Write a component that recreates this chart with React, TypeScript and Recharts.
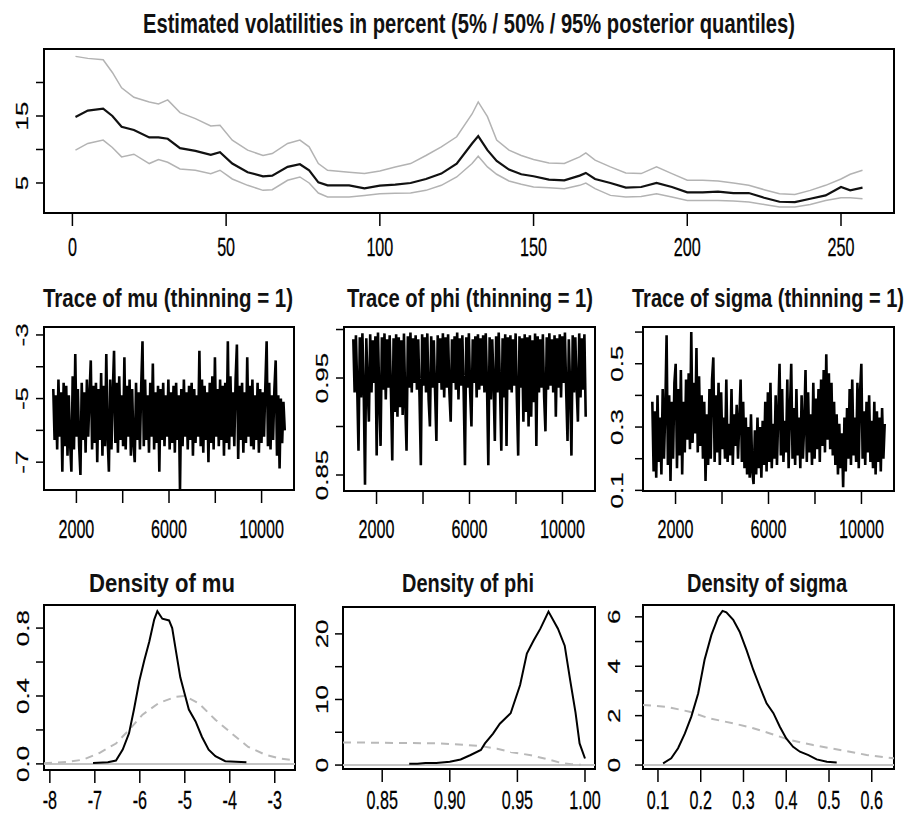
import { useLayoutEffect, useRef, useState } from "react";
import { LineChart, Line, XAxis, YAxis, ReferenceArea, ReferenceLine } from "recharts";

const FONT = "'Liberation Sans', Arial, Helvetica, sans-serif";
const TITLE_FONT = "'Liberation Sans Narrow', 'Arial Narrow', 'Liberation Sans', sans-serif";
const SQUISH = 0.62;

// ---- top panel: volatility quantiles ----
const volTime = [1, 5, 10, 13, 16, 20, 25, 28, 31, 35, 40, 45, 48, 52, 57, 62, 65, 70, 74, 77, 80, 83, 90, 95, 100, 105, 110, 115, 120, 125, 130, 132, 135, 138, 142, 146, 150, 155, 160, 165, 167, 170, 175, 180, 185, 190, 195, 200, 205, 210, 215, 220, 225, 230, 235, 240, 245, 250, 253, 257];
const volQ50 = [14.85, 15.8, 16.1, 15.0, 13.4, 12.9, 11.8, 11.8, 11.6, 10.2, 9.8, 9.2, 9.6, 7.9, 6.6, 6.0, 6.1, 7.4, 7.8, 6.9, 5.1, 4.65, 4.65, 4.2, 4.6, 4.75, 5.0, 5.6, 6.4, 7.9, 10.9, 12.0, 9.9, 8.3, 7.0, 6.3, 6.0, 5.5, 5.4, 6.1, 6.5, 5.6, 5.0, 4.3, 4.4, 5.0, 4.4, 3.6, 3.6, 3.7, 3.5, 3.5, 2.8, 2.2, 2.15, 2.65, 3.15, 4.4, 3.9, 4.3];
const volQ95 = [23.9, 23.6, 23.4, 21.5, 19.2, 17.8, 17.1, 16.8, 17.4, 15.5, 14.6, 13.5, 13.6, 11.4, 9.9, 9.1, 9.4, 10.9, 11.4, 10.4, 7.9, 6.9, 6.6, 6.4, 6.8, 7.4, 7.9, 9.1, 10.4, 11.9, 15.3, 17.1, 14.9, 11.4, 9.9, 9.1, 8.5, 8.0, 7.9, 8.9, 9.5, 8.4, 7.4, 6.5, 6.4, 7.4, 6.4, 5.4, 5.4, 5.3, 5.0, 4.65, 4.0, 3.4, 3.3, 3.9, 4.65, 5.6, 6.3, 6.9];
const volQ05 = [9.9, 10.9, 11.4, 10.3, 8.9, 9.3, 7.9, 8.5, 8.1, 7.1, 6.9, 6.4, 6.9, 5.6, 4.65, 3.9, 4.0, 5.4, 5.9, 5.0, 3.5, 2.9, 2.9, 3.15, 3.4, 3.45, 3.5, 3.9, 4.65, 5.9, 7.9, 9.0, 7.4, 6.3, 5.3, 4.8, 4.4, 4.3, 4.15, 4.65, 5.0, 4.15, 3.15, 2.9, 3.0, 3.4, 2.9, 2.4, 2.4, 2.4, 2.3, 2.15, 1.8, 1.4, 1.4, 1.8, 2.4, 2.8, 2.8, 2.65];
const volXTicks = [0, 50, 100, 150, 200, 250];
const volXLabels = ["0", "50", "100", "150", "200", "250"];
const volYTicks = [5, 10, 15, 20];
const volYLabels = ["5", "", "15", ""];

// ---- traces (draws 1001..11000 at ~56-draw steps) ----
const muDraws = [
  -4.7, -6.3, -4.9, -6.6, -4.4, -6.2, -4.8, -7.3, -4.5, -6.5,
  -4.6, -6.8, -4.9, -6.4, -7.3, -4.3, -6.6, -3.6, -6.2, -4.7,
  -6.5, -7.4, -4.5, -6.3, -4.8, -6.7, -4.4, -6.2, -4.9, -3.8,
  -6.6, -4.6, -6.4, -4.5, -7.0, -4.7, -6.3, -4.2, -6.8, -4.6,
  -6.5, -3.6, -6.2, -7.3, -4.4, -6.6, -4.8, -3.5, -6.4, -4.5,
  -6.7, -4.3, -6.3, -4.9, -6.5, -3.7, -6.6, -4.6, -6.2, -4.4,
  -6.8, -4.7, -6.4, -7.0, -4.5, -6.3, -4.8, -6.6, -4.6, -3.2,
  -6.5, -4.4, -6.3, -4.9, -6.7, -4.5, -6.2, -3.9, -6.6, -4.8,
  -6.4, -4.6, -7.3, -4.7, -6.3, -4.5, -6.5, -4.9, -6.2, -4.4,
  -6.6, -4.8, -6.4, -4.6, -6.7, -4.5, -6.3, -4.9, -7.9, -4.7,
  -6.5, -4.4, -6.2, -4.8, -6.6, -4.6, -6.3, -4.5, -6.8, -4.7,
  -6.4, -4.9, -6.2, -3.5, -6.5, -4.4, -6.7, -4.6, -6.3, -4.8,
  -7.0, -4.5, -6.4, -4.3, -6.6, -3.7, -6.2, -4.7, -6.5, -4.4,
  -6.3, -4.6, -6.8, -4.5, -6.4, -3.2, -6.6, -4.3, -6.2, -4.8,
  -6.5, -4.4, -3.3, -6.9, -4.6, -6.3, -4.5, -6.7, -4.8, -6.4,
  -3.7, -6.2, -4.6, -6.5, -4.4, -6.6, -4.9, -6.3, -4.5, -6.7,
  -4.7, -6.4, -4.8, -6.2, -4.6, -3.2, -6.5, -4.5, -6.6, -4.9,
  -6.3, -4.7, -3.8, -6.8, -4.9, -7.2, -5.0, -6.4, -5.1, -6.0];
const phiDraws = [
  0.990, 0.935, 0.994, 0.940, 0.875, 0.992, 0.930, 0.996, 0.938, 0.840,
  0.991, 0.942, 0.905, 0.995, 0.935, 0.989, 0.945, 0.993, 0.870, 0.997,
  0.930, 0.880, 0.992, 0.938, 0.996, 0.928, 0.990, 0.940, 0.994, 0.935,
  0.865, 0.991, 0.915, 0.995, 0.910, 0.992, 0.920, 0.989, 0.912, 0.996,
  0.925, 0.875, 0.993, 0.940, 0.997, 0.935, 0.991, 0.945, 0.994, 0.938,
  0.990, 0.930, 0.860, 0.995, 0.942, 0.992, 0.935, 0.996, 0.928, 0.900,
  0.993, 0.940, 0.989, 0.935, 0.885, 0.994, 0.945, 0.991, 0.938, 0.996,
  0.930, 0.992, 0.940, 0.995, 0.935, 0.905, 0.990, 0.945, 0.993, 0.938,
  0.997, 0.928, 0.991, 0.942, 0.994, 0.935, 0.860, 0.992, 0.940, 0.996,
  0.935, 0.900, 0.990, 0.945, 0.993, 0.930, 0.995, 0.938, 0.991, 0.942,
  0.994, 0.935, 0.996, 0.940, 0.860, 0.992, 0.928, 0.990, 0.945, 0.885,
  0.993, 0.935, 0.997, 0.940, 0.875, 0.991, 0.930, 0.995, 0.880, 0.992,
  0.938, 0.994, 0.935, 0.990, 0.942, 0.996, 0.928, 0.870, 0.993, 0.940,
  0.991, 0.905, 0.995, 0.915, 0.992, 0.900, 0.994, 0.910, 0.989, 0.925,
  0.996, 0.880, 0.993, 0.935, 0.990, 0.940, 0.995, 0.930, 0.895, 0.992,
  0.938, 0.996, 0.942, 0.990, 0.935, 0.994, 0.910, 0.991, 0.940, 0.995,
  0.930, 0.993, 0.945, 0.997, 0.935, 0.885, 0.990, 0.940, 0.870, 0.994,
  0.935, 0.992, 0.940, 0.905, 0.996, 0.930, 0.991, 0.938, 0.995, 0.910];
const sigmaDraws = [
  0.38, 0.16, 0.35, 0.14, 0.40, 0.19, 0.33, 0.15, 0.42, 0.20,
  0.36, 0.59, 0.18, 0.40, 0.13, 0.38, 0.20, 0.44, 0.50, 0.17,
  0.42, 0.21, 0.48, 0.15, 0.38, 0.22, 0.45, 0.26, 0.47, 0.23,
  0.60, 0.25, 0.44, 0.28, 0.55, 0.22, 0.46, 0.24, 0.40, 0.20,
  0.38, 0.13, 0.34, 0.18, 0.42, 0.20, 0.45, 0.52, 0.19, 0.40,
  0.22, 0.44, 0.18, 0.41, 0.23, 0.33, 0.20, 0.45, 0.19, 0.31,
  0.21, 0.42, 0.18, 0.34, 0.24, 0.37, 0.20, 0.32, 0.45, 0.19,
  0.38, 0.17, 0.33, 0.15, 0.30, 0.14, 0.34, 0.16, 0.12, 0.29,
  0.15, 0.33, 0.17, 0.30, 0.14, 0.32, 0.18, 0.38, 0.16, 0.41,
  0.19, 0.44, 0.17, 0.31, 0.20, 0.40, 0.18, 0.34, 0.50, 0.21,
  0.42, 0.19, 0.32, 0.22, 0.45, 0.17, 0.35, 0.50, 0.20, 0.36,
  0.18, 0.42, 0.21, 0.33, 0.17, 0.40, 0.20, 0.31, 0.48, 0.19,
  0.41, 0.22, 0.34, 0.18, 0.44, 0.20, 0.39, 0.23, 0.42, 0.19,
  0.45, 0.24, 0.48, 0.22, 0.53, 0.26, 0.47, 0.23, 0.44, 0.21,
  0.38, 0.18, 0.34, 0.15, 0.31, 0.17, 0.28, 0.11, 0.33, 0.16,
  0.36, 0.20, 0.42, 0.18, 0.45, 0.21, 0.33, 0.19, 0.44, 0.17,
  0.41, 0.50, 0.20, 0.35, 0.18, 0.38, 0.22, 0.40, 0.19, 0.32,
  0.17, 0.38, 0.15, 0.35, 0.19, 0.33, 0.16, 0.36, 0.20, 0.31];
const traceXTicks = [2000, 4000, 6000, 8000, 10000];
const traceXLabels = ["2000", "", "6000", "", "10000"];
const muTraceYTicks = [-7, -6, -5, -4, -3];
const muTraceYLabels = ["-7", "", "-5", "", "-3"];
const phiTraceYTicks = [0.85, 0.9, 0.95, 1.0];
const phiTraceYLabels = ["0.85", "", "0.95", ""];
const sigmaTraceYTicks = [0.1, 0.2, 0.3, 0.4, 0.5, 0.6];
const sigmaTraceYLabels = ["0.1", "", "0.3", "", "0.5", ""];

// ---- densities: posterior (black) and prior (grey dashed) ----
const muPostX = [-7.04, -6.71, -6.53, -6.38, -6.24, -6.13, -6.01, -5.9, -5.79, -5.68, -5.61, -5.5, -5.35, -5.28, -5.2, -5.1, -4.99, -4.91, -4.76, -4.62, -4.47, -4.32, -4.1, -3.63];
const muPostY = [0.005, 0.01, 0.02, 0.084, 0.18, 0.32, 0.49, 0.61, 0.72, 0.85, 0.9, 0.855, 0.845, 0.8, 0.67, 0.51, 0.4, 0.32, 0.25, 0.16, 0.084, 0.045, 0.016, 0.01];
const muPriorX = [-8.13, -7.6, -7.26, -6.9, -6.53, -6.24, -5.94, -5.57, -5.2, -5.0, -4.69, -4.32, -3.96, -3.59, -3.22, -2.85, -2.55];
const muPriorY = [0.004, 0.012, 0.025, 0.064, 0.12, 0.2, 0.29, 0.36, 0.395, 0.4, 0.357, 0.26, 0.18, 0.1, 0.055, 0.03, 0.02];
const phiPostX = [0.87, 0.876, 0.882, 0.89, 0.9, 0.908, 0.915, 0.923, 0.926, 0.932, 0.937, 0.945, 0.952, 0.957, 0.962, 0.967, 0.973, 0.98, 0.985, 0.989, 0.993, 0.996, 1.0];
const phiPostY = [0.2, 0.2, 0.3, 0.3, 0.5, 0.86, 1.5, 2.3, 3.3, 4.8, 6.3, 7.9, 12.2, 17, 19, 20.8, 23.4, 20.8, 18.2, 13, 8, 3.3, 1.0];
const phiPriorX = [0.821, 0.85, 0.893, 0.91, 0.923, 0.935, 0.945, 0.96, 0.97, 0.982, 0.99, 0.997];
const phiPriorY = [3.45, 3.4, 3.3, 3.1, 2.9, 2.5, 2.0, 1.5, 1.0, 0.35, 0.12, 0.03];
const sigmaPostX = [0.112, 0.131, 0.147, 0.163, 0.178, 0.194, 0.209, 0.225, 0.241, 0.251, 0.26, 0.276, 0.291, 0.307, 0.323, 0.338, 0.354, 0.37, 0.385, 0.4, 0.416, 0.432, 0.452, 0.471, 0.495, 0.518];
const sigmaPostY = [0.07, 0.27, 0.68, 1.28, 1.96, 2.9, 4.26, 5.27, 6.0, 6.24, 6.18, 5.88, 5.4, 4.66, 3.85, 3.18, 2.5, 2.1, 1.55, 1.08, 0.74, 0.54, 0.4, 0.23, 0.13, 0.1];
const sigmaPriorX = [0.065, 0.12, 0.174, 0.22, 0.276, 0.323, 0.362, 0.409, 0.463, 0.526, 0.588, 0.652];
const sigmaPriorY = [2.43, 2.36, 2.16, 1.89, 1.69, 1.49, 1.28, 1.01, 0.81, 0.61, 0.41, 0.27];
const muDensXTicks = [-8, -7, -6, -5, -4, -3];
const muDensXLabels = ["-8", "-7", "-6", "-5", "-4", "-3"];
const muDensYTicks = [0, 0.2, 0.4, 0.6, 0.8];
const muDensYLabels = ["0.0", "", "0.4", "", "0.8"];
const phiDensXTicks = [0.85, 0.9, 0.95, 1.0];
const phiDensXLabels = ["0.85", "0.90", "0.95", "1.00"];
const phiDensYTicks = [0, 5, 10, 15, 20];
const phiDensYLabels = ["0", "", "10", "", "20"];
const sigmaDensXTicks = [0.1, 0.2, 0.3, 0.4, 0.5, 0.6];
const sigmaDensXLabels = ["0.1", "0.2", "0.3", "0.4", "0.5", "0.6"];
const sigmaDensYTicks = [0, 1, 2, 3, 4, 5, 6];
const sigmaDensYLabels = ["0", "", "2", "", "4", "", "6"];

const pairs = (xs: number[], ys: number[]) => xs.map((x, i) => ({ x, y: ys[i] }));
// iteration number of each kept draw
const draws = (ys: number[]) => ys.map((y, i) => ({ x: 1001 + Math.round((i * 9999) / (ys.length - 1)), y }));
const volData = volTime.map((t, i) => ({ x: t, lo: volQ05[i], med: volQ50[i], hi: volQ95[i] }));

function SqText({ x, y, text, rotate }: { x: number; y: number; text: string; rotate?: boolean }) {
  return (
    <text
      transform={`translate(${x} ${y}) scale(${SQUISH} 1)${rotate ? " rotate(-90)" : ""}`}
      textAnchor="middle"
      dominantBaseline="central"
      style={{ fontFamily: FONT, fontSize: 26, fill: "#000", stroke: "#000", strokeWidth: 0.3 }}
    >
      {text}
    </text>
  );
}

type Box = { l: number; t: number; r: number; b: number };

function Panel({
  left, top, width, height, box, xDomain, yDomain, xTicks, xLabels, yTicks, yLabels,
  xLabelGap, yLabelGap, children,
}: {
  left: number; top: number; width: number; height: number; box: Box;
  xDomain: [number, number]; yDomain: [number, number];
  xTicks: number[]; xLabels: string[]; yTicks: number[]; yLabels: string[];
  xLabelGap: number; yLabelGap: number; children: React.ReactNode;
}) {
  const yAxisW = box.l - left;
  const xAxisH = top + height - box.b;
  const labelY = box.b - top + xLabelGap;
  const labelX = yAxisW - yLabelGap;
  const xTick = (p: any) => {
    const s = xLabels[xTicks.indexOf(p.payload.value)];
    return s ? <SqText x={p.x} y={labelY} text={s} /> : <g />;
  };
  const yTick = (p: any) => {
    const s = yLabels[yTicks.indexOf(p.payload.value)];
    return s ? <SqText x={labelX} y={p.y} text={s} rotate /> : <g />;
  };
  return (
    <div style={{ position: "absolute", left, top }}>
      <LineChart
        width={width}
        height={height}
        margin={{ top: box.t - top, right: left + width - box.r, left: 0, bottom: 0 }}
      >
        <XAxis dataKey="x" type="number" domain={xDomain} allowDataOverflow ticks={xTicks} interval={0}
          height={xAxisH} axisLine={false} tickSize={13} tickLine={{ stroke: "#000", strokeWidth: 1.5 }} tick={xTick} />
        <YAxis type="number" domain={yDomain} allowDataOverflow ticks={yTicks} interval={0}
          width={yAxisW} axisLine={false} tickSize={8} tickLine={{ stroke: "#000", strokeWidth: 1.5 }} tick={yTick} />
        {children}
        <ReferenceArea x1={xDomain[0]} x2={xDomain[1]} y1={yDomain[0]} y2={yDomain[1]} ifOverflow="visible"
          fill="none" fillOpacity={0} stroke="#000" strokeWidth={2} />
      </LineChart>
    </div>
  );
}

// bold title squeezed horizontally to the width it has in the picture
function Title({ x, y, w, size, text }: { x: number; y: number; w: number; size: number; text: string }) {
  const ref = useRef<SVGTextElement>(null);
  const [sx, setSx] = useState(0.8);
  useLayoutEffect(() => {
    const len = ref.current ? ref.current.getComputedTextLength() : 0;
    if (len > 0) setSx(w / len);
  }, [w, size, text]);
  return (
    <g transform={`translate(${x} ${y}) scale(${sx} 1)`}>
      <text ref={ref} x={0} y={0} textAnchor="middle"
        style={{ fontFamily: TITLE_FONT, fontWeight: "bold", fontSize: size, fill: "#111" }}>
        {text}
      </text>
    </g>
  );
}

const TRACE_TOP = 315, TRACE_H = 240;
const DENS_TOP = 595, DENS_H = 228;
const priorStyle = { stroke: "#b9b9b9", strokeWidth: 2, strokeDasharray: "8 6" };
const traceStroke = 2.6;

export default function App() {
  return (
    <div style={{ position: "absolute", left: 0, top: 0, width: 909, height: 823, background: "#fff", overflow: "hidden" }}>
      <Panel left={0} top={40} width={909} height={240} box={{ l: 44, t: 49, r: 894, b: 213 }}
        xDomain={[-9.24, 267.24]} yDomain={[0.52, 25.0]} xTicks={volXTicks} xLabels={volXLabels}
        yTicks={volYTicks} yLabels={volYLabels} xLabelGap={34} yLabelGap={22}>
        <Line data={volData} dataKey="hi" stroke="#b3b3b3" strokeWidth={1.5} dot={false} isAnimationActive={false} />
        <Line data={volData} dataKey="lo" stroke="#b3b3b3" strokeWidth={1.5} dot={false} isAnimationActive={false} />
        <Line data={volData} dataKey="med" stroke="#111" strokeWidth={2.2} dot={false} isAnimationActive={false} />
      </Panel>

      <Panel left={0} top={TRACE_TOP} width={304} height={TRACE_H} box={{ l: 44, t: 327, r: 294, b: 490 }}
        xDomain={[600, 11400]} yDomain={[-7.875, -2.75]} xTicks={traceXTicks} xLabels={traceXLabels}
        yTicks={muTraceYTicks} yLabels={muTraceYLabels} xLabelGap={39} yLabelGap={22}>
        <Line data={draws(muDraws)} dataKey="y" stroke="#000" strokeWidth={traceStroke} dot={false} isAnimationActive={false} />
      </Panel>
      <Panel left={300} top={TRACE_TOP} width={305} height={TRACE_H} box={{ l: 344, t: 327, r: 595, b: 491 }}
        xDomain={[600, 11400]} yDomain={[0.8335, 1.0026]} xTicks={traceXTicks} xLabels={traceXLabels}
        yTicks={phiTraceYTicks} yLabels={phiTraceYLabels} xLabelGap={38} yLabelGap={22}>
        <Line data={draws(phiDraws)} dataKey="y" stroke="#000" strokeWidth={traceStroke} dot={false} isAnimationActive={false} />
      </Panel>
      <Panel left={599} top={TRACE_TOP} width={305} height={TRACE_H} box={{ l: 643, t: 327, r: 894, b: 491 }}
        xDomain={[600, 11400]} yDomain={[0.098, 0.616]} xTicks={traceXTicks} xLabels={traceXLabels}
        yTicks={sigmaTraceYTicks} yLabels={sigmaTraceYLabels} xLabelGap={38} yLabelGap={26}>
        <Line data={draws(sigmaDraws)} dataKey="y" stroke="#000" strokeWidth={traceStroke} dot={false} isAnimationActive={false} />
      </Panel>

      <Panel left={0} top={DENS_TOP} width={305} height={DENS_H} box={{ l: 44, t: 605, r: 295, b: 770 }}
        xDomain={[-8.13, -2.55]} yDomain={[-0.036, 0.936]} xTicks={muDensXTicks} xLabels={muDensXLabels}
        yTicks={muDensYTicks} yLabels={muDensYLabels} xLabelGap={30} yLabelGap={21}>
        <ReferenceLine y={0} stroke="#c4c4c4" strokeWidth={2} />
        <Line data={pairs(muPriorX, muPriorY)} dataKey="y" {...priorStyle} dot={false} isAnimationActive={false} />
        <Line data={pairs(muPostX, muPostY)} dataKey="y" stroke="#000" strokeWidth={2} dot={false} isAnimationActive={false} />
      </Panel>
      <Panel left={300} top={DENS_TOP} width={305} height={DENS_H} box={{ l: 343, t: 607, r: 595, b: 769 }}
        xDomain={[0.821, 1.0074]} yDomain={[-0.6, 24.1]} xTicks={phiDensXTicks} xLabels={phiDensXLabels}
        yTicks={phiDensYTicks} yLabels={phiDensYLabels} xLabelGap={31} yLabelGap={21}>
        <ReferenceLine y={0} stroke="#c4c4c4" strokeWidth={2} />
        <Line data={pairs(phiPriorX, phiPriorY)} dataKey="y" {...priorStyle} dot={false} isAnimationActive={false} />
        <Line data={pairs(phiPostX, phiPostY)} dataKey="y" stroke="#000" strokeWidth={2} dot={false} isAnimationActive={false} />
      </Panel>
      <Panel left={599} top={DENS_TOP} width={305} height={DENS_H} box={{ l: 643, t: 605, r: 894, b: 769 }}
        xDomain={[0.065, 0.652]} yDomain={[-0.16, 6.48]} xTicks={sigmaDensXTicks} xLabels={sigmaDensXLabels}
        yTicks={sigmaDensYTicks} yLabels={sigmaDensYLabels} xLabelGap={31} yLabelGap={29}>
        <ReferenceLine y={0} stroke="#c4c4c4" strokeWidth={2} />
        <Line data={pairs(sigmaPriorX, sigmaPriorY)} dataKey="y" {...priorStyle} dot={false} isAnimationActive={false} />
        <Line data={pairs(sigmaPostX, sigmaPostY)} dataKey="y" stroke="#000" strokeWidth={2} dot={false} isAnimationActive={false} />
      </Panel>

      <svg width={909} height={823} style={{ position: "absolute", left: 0, top: 0, pointerEvents: "none" }}>
        <Title x={469} y={33} w={652} size={28} text="Estimated volatilities in percent (5% / 50% / 95% posterior quantiles)" />
        <Title x={168} y={307} w={250} size={25} text="Trace of mu (thinning = 1)" />
        <Title x={470} y={307} w={246} size={25} text="Trace of phi (thinning = 1)" />
        <Title x={768} y={307} w={272} size={25} text="Trace of sigma (thinning = 1)" />
        <Title x={162} y={592} w={146} size={25} text="Density of mu" />
        <Title x={468} y={592} w={132} size={25} text="Density of phi" />
        <Title x={767} y={592} w={160} size={25} text="Density of sigma" />
      </svg>
    </div>
  );
}
